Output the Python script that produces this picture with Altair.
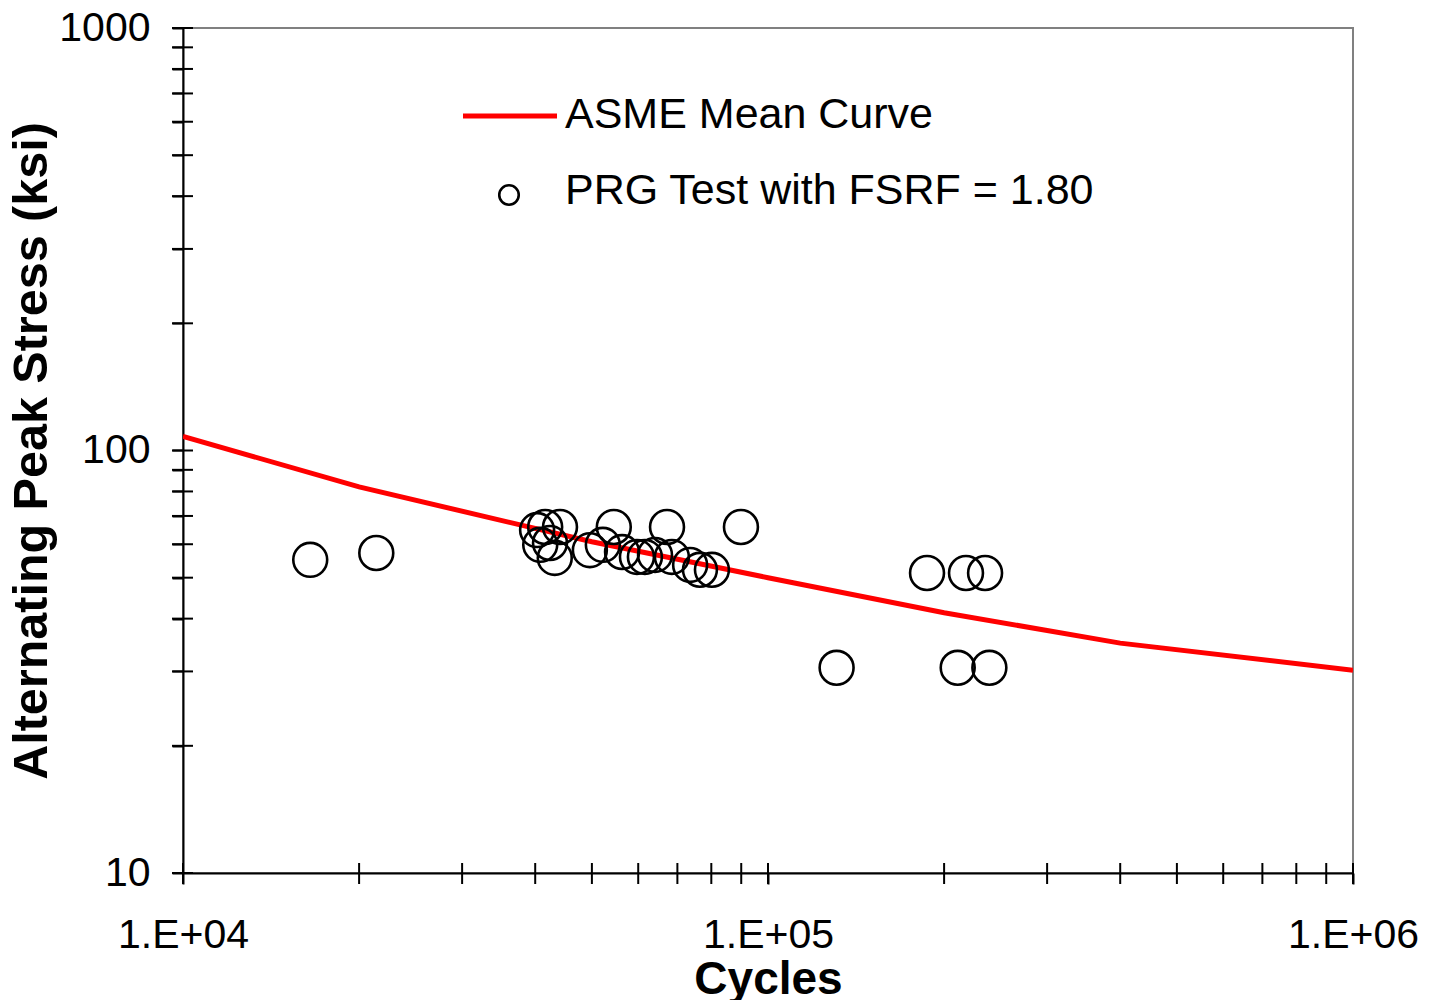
import altair as alt
import pandas as pd

# ASME mean curve
curve_n = [10000, 20000, 50000, 100000, 200000, 400000, 1000000]
curve_s = [108.0, 82.0, 60.8, 50.0, 41.3, 35.0, 30.2]

# PRG test points
test_n = [16500, 21400, 40300, 41600, 44100, 40800, 42400, 43200, 49600, 52200,
          54500, 56300, 59700, 61600, 64100, 67200, 68500, 73600, 76500, 80200,
          89900, 131000, 187000, 218000, 235000, 211000, 239000]
test_s = [55.1, 57.2, 64.8, 65.9, 65.9, 59.8, 60.4, 55.7, 58.1, 59.8,
          65.9, 57.5, 56.0, 56.0, 56.6, 65.9, 56.0, 53.6, 52.2, 52.2,
          65.9, 30.6, 51.3, 51.3, 51.3, 30.6, 30.6]

x_ticks = [10000, 20000, 30000, 40000, 50000, 60000, 70000, 80000, 90000,
           100000, 200000, 300000, 400000, 500000, 600000, 700000, 800000, 900000, 1000000]
y_ticks = [10, 20, 30, 40, 50, 60, 70, 80, 90,
           100, 200, 300, 400, 500, 600, 700, 800, 900, 1000]

legend_labels = ["ASME Mean Curve", "PRG Test with FSRF = 1.80"]

W, H = 1170, 845
FONT = "Liberation Sans"

xscale = alt.Scale(type="log", domain=[10000, 1000000], nice=False)
yscale = alt.Scale(type="log", domain=[10, 1000], nice=False)

curve_df = pd.DataFrame({"n": curve_n, "s": curve_s})
test_df = pd.DataFrame({"n": test_n, "s": test_s})
xt_df = pd.DataFrame({"t": x_ticks})
yt_df = pd.DataFrame({"t": y_ticks})

x_axis = alt.Axis(
    title="Cycles", values=[10000, 100000, 1000000],
    labelExpr='"1.E+0" + format(round(log(datum.value)/LN10), "d")',
    labelFont=FONT, labelFontSize=41, labelColor="black", labelPadding=31,
    titleFont=FONT, titleFontSize=46, titleFontWeight="bold", titleColor="black",
    titlePadding=2, tickSize=11, tickColor="black", tickWidth=2,
    domainColor="black", domainWidth=2, grid=False, labelFlush=False,
)
y_axis = alt.Axis(
    title="Alternating Peak Stress (ksi)", values=y_ticks,
    labelExpr='indexof([10, 100, 1000], datum.value) >= 0 ? format(datum.value, "d") : ""',
    labelFont=FONT, labelFontSize=41, labelColor="black", labelPadding=22,
    titleFont=FONT, titleFontSize=48.5, titleFontWeight="bold", titleColor="black",
    titlePadding=2, tickSize=11, tickColor="black", tickWidth=2,
    domainColor="black", domainWidth=2, grid=False, labelFlush=False,
)

curve = alt.Chart(curve_df).mark_line(color="#ff0000", strokeWidth=5, clip=True).encode(
    x=alt.X("n:Q", scale=xscale, axis=x_axis),
    y=alt.Y("s:Q", scale=yscale, axis=y_axis),
)

pts = alt.Chart(test_df).mark_point(
    shape="circle", filled=False, color="black", size=1150, strokeWidth=2.6, opacity=1
).encode(
    x=alt.X("n:Q", scale=xscale),
    y=alt.Y("s:Q", scale=yscale),
)

# minor ticks crossing the axes
xt_out = alt.Chart(xt_df).mark_rule(color="black", strokeWidth=2).encode(
    x=alt.X("t:Q", scale=xscale),
    y=alt.value(H - 10), y2=alt.value(H + 11),
)
yt_out = alt.Chart(yt_df).mark_rule(color="black", strokeWidth=2).encode(
    y=alt.Y("t:Q", scale=yscale),
    x=alt.value(-11), x2=alt.value(10),
)

leg_line = alt.Chart(pd.DataFrame({"k": [legend_labels[0]]})).mark_rule(
    color="#ff0000", strokeWidth=5
).encode(x=alt.value(280), x2=alt.value(374), y=alt.value(88))
leg_pt = alt.Chart(pd.DataFrame({"k": [legend_labels[1]]})).mark_point(
    shape="circle", filled=False, color="black", size=380, strokeWidth=2.6, opacity=1
).encode(x=alt.value(326), y=alt.value(167))
leg_text = alt.Chart(pd.DataFrame({"k": legend_labels, "yy": [87, 163]})).mark_text(
    align="left", baseline="middle", font=FONT, fontSize=43, color="black"
).encode(x=alt.value(382), y=alt.Y("yy:Q", scale=None), text="k:N")

chart = alt.layer(curve, xt_out, yt_out, pts, leg_line, leg_pt, leg_text).properties(
    width=W, height=H,
    autosize=alt.AutoSizeParams(type="none"),
    padding={"left": 183, "top": 28, "right": 76, "bottom": 127},
    background="white",
).configure_view(stroke="#808080", strokeWidth=2)

chart.save("out.html", embed_options={"renderer": "svg", "actions": False})
